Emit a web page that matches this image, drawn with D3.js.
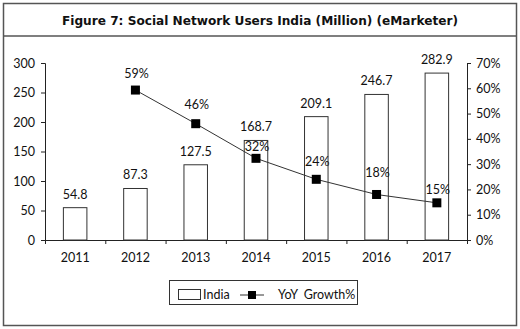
<!DOCTYPE html>
<html>
<head>
<meta charset="utf-8">
<script src="https://cdn.jsdelivr.net/npm/d3@7"></script>
<style>
  html, body { margin: 0; padding: 0; background: #fff; }
  svg { display: block; }
  text { font-family: Lato, "Noto Sans", sans-serif; fill: #111; }
</style>
</head>
<body>
<script>
const years = ["2011", "2012", "2013", "2014", "2015", "2016", "2017"];
const users = [54.8, 87.3, 127.5, 168.7, 209.1, 246.7, 282.9];
const growthYears = ["2012", "2013", "2014", "2015", "2016", "2017"];
const growth = [0.593, 0.460, 0.323, 0.240, 0.180, 0.147];
const growthLabels = ["59%", "46%", "32%", "24%", "18%", "15%"];
const leftTicks = [0, 50, 100, 150, 200, 250, 300];
const rightTicks = [0, 0.1, 0.2, 0.3, 0.4, 0.5, 0.6, 0.7];
const pctLabelDy = [-12, -15, -7, -13, -17, -9];

(function () {
const W = 520, H = 329;
const svg = d3.select("body").append("svg").attr("width", W).attr("height", H);

// outer frame and title band
svg.append("rect").attr("x", 3.5).attr("y", 3.5).attr("width", 513).attr("height", 322)
  .attr("fill", "none").attr("stroke", "#555").attr("stroke-width", 1.5);
svg.append("line").attr("x1", 3.5).attr("x2", 516.5).attr("y1", 36).attr("y2", 36)
  .attr("stroke", "#555").attr("stroke-width", 1.5);
svg.append("text").attr("x", 62).attr("y", 25)
  .attr("textLength", 396).attr("lengthAdjust", "spacingAndGlyphs")
  .style("font-family", "'DejaVu Sans', sans-serif")
  .style("font-weight", "bold").style("font-size", "13px")
  .text("Figure 7: Social Network Users India (Million) (eMarketer)");

const pL = 45, pR = 467, pT = 63, pB = 240;
const x = d3.scaleBand().domain(years).range([pL, pR]).paddingInner(0.61).paddingOuter(0.305);
const y = d3.scaleLinear().domain([0, 300]).range([pB, pT]);
const y2 = d3.scaleLinear().domain([0, 0.7]).range([pB, pT]);

const axisColor = "#222";
const gl = svg.append("g").attr("transform", `translate(${pL},0)`)
  .call(d3.axisLeft(y).tickValues(leftTicks).tickSize(4).tickPadding(6));
const gr = svg.append("g").attr("transform", `translate(${pR},0)`)
  .call(d3.axisRight(y2).tickValues(rightTicks).tickFormat(d3.format(".0%")).tickSize(4).tickPadding(5));
const xb = d3.scaleLinear().domain([0, years.length]).range([pL, pR]);
const gx = svg.append("g").attr("transform", `translate(0,${pB})`)
  .call(d3.axisBottom(xb).tickValues(d3.range(0, years.length + 1)).tickSize(4).tickFormat(""));
[gl, gr, gx].forEach(g => {
  g.select(".domain").attr("stroke", axisColor);
  g.selectAll(".tick line").attr("stroke", axisColor);
  g.selectAll("text").style("font-size", "12.5px").attr("fill", "#111").style("font-family", "Lato, 'Noto Sans', sans-serif");
});
gx.selectAll(".tick text").remove();
svg.append("g").selectAll("text").data(years).join("text")
  .attr("x", d => x(d) + x.bandwidth()/2).attr("y", pB + 22)
  .attr("text-anchor", "middle").style("font-size", "12.5px").text(d => d);

// bars
svg.append("g").selectAll("rect").data(years).join("rect")
  .attr("x", d => x(d)).attr("width", x.bandwidth())
  .attr("y", (d, i) => y(users[i])).attr("height", (d, i) => pB - y(users[i]))
  .attr("fill", "#fff").attr("stroke", "#333").attr("stroke-width", 1);

svg.append("g").selectAll("text").data(years).join("text")
  .attr("x", d => x(d) + x.bandwidth()/2).attr("y", (d, i) => y(users[i]) - 9)
  .attr("text-anchor", "middle").style("font-size", "12.5px")
  .text((d, i) => d3.format(".1f")(users[i]));

// growth line
const cx = d => x(d) + x.bandwidth()/2;
const line = d3.line().x((d, i) => cx(growthYears[i])).y(d => y2(d));
svg.append("path").datum(growth).attr("d", line)
  .attr("fill", "none").attr("stroke", "#333").attr("stroke-width", 1);
svg.append("g").selectAll("rect").data(growth).join("rect")
  .attr("x", (d, i) => cx(growthYears[i]) - 4.5).attr("y", d => y2(d) - 4.5)
  .attr("width", 9).attr("height", 9).attr("fill", "#000");
svg.append("g").selectAll("text").data(growth).join("text")
  .attr("x", (d, i) => cx(growthYears[i]) + 1).attr("y", (d, i) => y2(d) + pctLabelDy[i])
  .attr("text-anchor", "middle").style("font-size", "12.5px")
  .text((d, i) => growthLabels[i]);

// legend
const lg = svg.append("g");
lg.append("rect").attr("x", 169.5).attr("y", 280.5).attr("width", 188).attr("height", 24)
  .attr("fill", "#fff").attr("stroke", "#333").attr("stroke-width", 1);
lg.append("rect").attr("x", 178.5).attr("y", 289.5).attr("width", 22).attr("height", 10)
  .attr("fill", "#fff").attr("stroke", "#333");
lg.append("text").attr("x", 203).attr("y", 299).style("font-size", "12.5px").text("India");
lg.append("line").attr("x1", 240).attr("x2", 264).attr("y1", 295).attr("y2", 295)
  .attr("stroke", "#333");
lg.append("rect").attr("x", 248).attr("y", 291).attr("width", 8).attr("height", 8).attr("fill", "#000");
lg.append("text").attr("x", 278).attr("y", 299).style("font-size", "12.5px").style("word-spacing", "3px").text("YoY Growth%");
})();
</script>
</body>
</html>
